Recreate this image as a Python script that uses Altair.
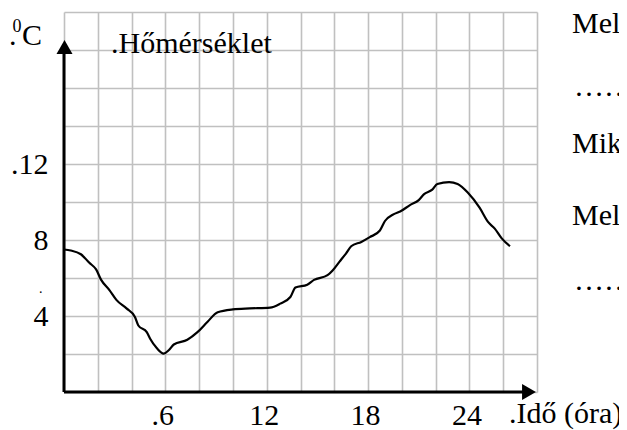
import altair as alt
import pandas as pd

FONT = "Liberation Serif"

# Temperature curve (hour, °C)
hours = [0, 0.4, 1.0, 1.5, 1.9, 2.2, 2.7, 3.1, 3.7, 4.2, 4.4, 4.9, 5.1, 5.5, 5.9,
         6.2, 6.5, 7.3, 7.9, 8.5, 9.1, 10.0, 11.0, 12.2, 12.8, 13.4, 13.7, 14.4,
         14.8, 15.6, 15.9, 16.3, 16.7, 17.0, 17.6, 18.1, 18.7, 19.0, 19.5, 19.9,
         20.5, 21.0, 21.3, 21.8, 22.1, 22.8, 23.3, 23.9, 24.6, 25.1, 25.5, 25.9, 26.4]
temps = [7.5, 7.45, 7.25, 6.8, 6.45, 5.9, 5.35, 4.85, 4.4, 3.95, 3.5, 3.15, 2.8,
         2.3, 2.02, 2.2, 2.5, 2.75, 3.15, 3.7, 4.2, 4.35, 4.4, 4.44, 4.65, 5.0,
         5.5, 5.65, 5.9, 6.15, 6.4, 6.85, 7.3, 7.67, 7.9, 8.15, 8.5, 9.0, 9.35,
         9.5, 9.85, 10.1, 10.4, 10.65, 10.95, 11.05, 10.95, 10.5, 9.7, 8.95, 8.6,
         8.1, 7.67]

x_grid = list(range(0, 29, 2))
y_grid = list(range(0, 21, 2))
x_labels = {6: ".6", 12: "12", 18: "18", 24: "24"}
y_labels = {4: "4", 8: "8", 12: ".12"}

title_text = ".Hőmérséklet"
xlabel_text = ".Idő (óra)"
side_texts = ["Melyik órában volt a legmelegebb?",
              "……………………………",
              "Mikor volt a leghidegebb?",
              "Melyik két időpontban volt 8 fok?",
              "……………………………"]

W, H = 473, 380


def lab_expr(d):
    expr = "''"
    for k, v in d.items():
        expr = f"datum.value == {k} ? '{v}' : ({expr})"
    return expr


df = pd.DataFrame({"hour": hours, "temp": temps})

grid_kw = dict(grid=True, gridColor="#c0c0c0", gridWidth=1.6, ticks=False,
               domain=False, labelFont=FONT, labelFontSize=30, labelColor="black",
               labelOverlap=False, labelFlush=False, title="")

line = alt.Chart(df).mark_line(color="black", strokeWidth=2.2,
                               interpolate="monotone").encode(
    x=alt.X("hour:Q", scale=alt.Scale(domain=[0, 28], nice=False, zero=False),
            axis=alt.Axis(values=x_grid, labelExpr=lab_expr(x_labels),
                          labelPadding=8, labelOffset=-3, **grid_kw)),
    y=alt.Y("temp:Q", scale=alt.Scale(domain=[0, 20], nice=False, zero=False),
            axis=alt.Axis(values=y_grid, labelExpr=lab_expr(y_labels),
                          labelPadding=16, labelAlign="right",
                          labelBaseline="middle", **grid_kw)),
)

one = alt.Data(values=[{}])

yaxis_line = alt.Chart(one).mark_rule(color="black", strokeWidth=3).encode(
    x=alt.value(0), y=alt.value(H), y2=alt.value(40))
xaxis_line = alt.Chart(one).mark_rule(color="black", strokeWidth=3).encode(
    x=alt.value(0), x2=alt.value(462), y=alt.value(H))
yarrow = alt.Chart(one).mark_point(shape="triangle-up", filled=True, size=256,
                                   color="black", opacity=1).encode(
    x=alt.value(0.5), y=alt.value(35))
xarrow = alt.Chart(one).mark_point(shape="triangle-right", filled=True, size=256,
                                   color="black", opacity=1).encode(
    x=alt.value(465), y=alt.value(H))


def label(text, x, y, size=30):
    return alt.Chart(one).mark_text(text=text, align="left", baseline="alphabetic",
                                    font=FONT, fontSize=size, color="black").encode(
        x=alt.value(x), y=alt.value(y))


texts = [
    label(title_text, 47, 40.5),
    label(xlabel_text, 445, 411),
    label(".", -55, 33),
    label("0", -51.5, 20, 18),
    label("C", -42, 33),
    label(".", -25, 281, 14),
    label(side_texts[0], 508, 21),
    label(side_texts[1], 510, 84),
    label(side_texts[2], 508, 141),
    label(side_texts[3], 508, 213),
    label(side_texts[4], 510, 278),
]

chart = alt.layer(line, yaxis_line, xaxis_line, yarrow, xarrow, *texts).properties(
    width=W, height=H,
    autosize=alt.AutoSizeParams(type="none"),
    padding={"left": 56, "top": 4, "right": 82, "bottom": 38},
    background="white",
).configure_view(strokeWidth=0)

chart.save("out.html", embed_options={"renderer": "svg", "actions": False})
